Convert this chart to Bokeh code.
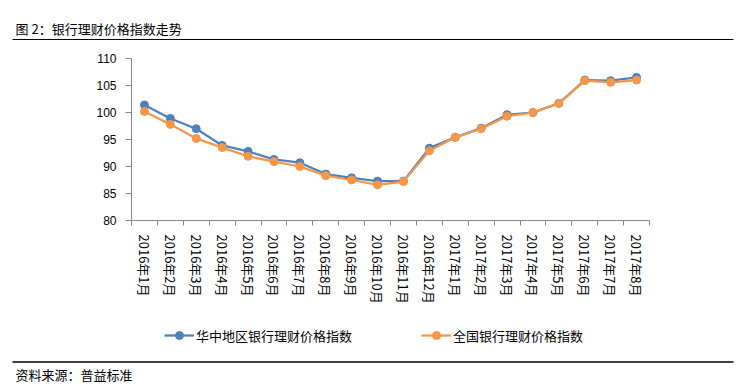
from bokeh.plotting import figure
from bokeh.models import Range1d, FixedTicker, Legend, LegendItem
from bokeh.layouts import column, row
from bokeh.embed import file_html
from bokeh.resources import INLINE
from bokeh.core.properties import value

months = ["2016年1月", "2016年2月", "2016年3月", "2016年4月", "2016年5月", "2016年6月",
          "2016年7月", "2016年8月", "2016年9月", "2016年10月", "2016年11月", "2016年12月",
          "2017年1月", "2017年2月", "2017年3月", "2017年4月", "2017年5月", "2017年6月",
          "2017年7月", "2017年8月"]
central = [101.4, 98.9, 97.0, 93.9, 92.8, 91.3, 90.7, 88.6, 87.9, 87.3, 87.3, 93.4,
           95.4, 97.1, 99.6, 100.0, 101.7, 106.0, 105.9, 106.5]
national = [100.2, 97.8, 95.2, 93.5, 91.9, 90.9, 90.0, 88.3, 87.5, 86.6, 87.2, 92.9,
            95.4, 97.0, 99.3, 100.0, 101.7, 105.9, 105.6, 106.0]
y_ticks = [80, 85, 90, 95, 100, 105, 110]
series_names = ["华中地区银行理财价格指数", "全国银行理财价格指数"]
title_text = "图 2：银行理财价格指数走势"
source_text = "资料来源：普益标准"

CJK = "Noto Sans CJK SC"
BLUE = "#4F81BD"
ORANGE = "#F79646"
AXIS = "#868686"
W = 741


def strip(height, y_top, y_bottom):
    f = figure(width=W, height=height, x_range=Range1d(0, W), y_range=Range1d(y_bottom, y_top),
               x_axis_type=None, y_axis_type=None, output_backend="svg",
               toolbar_location=None, min_border=0)
    f.grid.visible = False
    f.outline_line_color = None
    return f


# ---- top strip (title + rule), page y 0..40 ----
top = strip(40, 0, 40)
top.text(x=[15], y=[28], text=[title_text], text_font=value(CJK), text_font_size="13px",
         text_baseline="middle", text_align="left", text_color="#000000")
top.segment(x0=[12], y0=[39.3], x1=[733], y1=[39.3], line_color="#000000", line_width=1.5)

# ---- main chart, page y 40..318 ----
xs = list(range(1, len(months) + 1))
p = figure(width=W, height=278, x_range=Range1d(0.5, len(months) + 0.5),
           y_range=Range1d(80, 110), output_backend="svg", toolbar_location=None,
           min_border_left=131, min_border_right=92, min_border_top=18, min_border_bottom=98)
p.grid.visible = False
p.outline_line_color = None

xa = p.xaxis[0]
xa.ticker = FixedTicker(ticks=xs, minor_ticks=[i + 0.5 for i in range(0, len(months) + 1)])
xa.major_label_overrides = {i: m for i, m in zip(xs, months)}
xa.major_label_orientation = "vertical"
xa.major_tick_out = 0
xa.major_tick_in = 0
xa.minor_tick_out = 5
xa.minor_tick_in = 0
xa.axis_line_color = AXIS
xa.minor_tick_line_color = AXIS
xa.major_label_text_font = CJK
xa.major_label_text_font_size = "13px"
xa.major_label_text_color = "#000000"
xa.major_label_standoff = 9

ya = p.yaxis[0]
ya.ticker = FixedTicker(ticks=y_ticks, minor_ticks=[])
ya.major_tick_out = 6
ya.major_tick_in = 0
ya.axis_line_color = AXIS
ya.major_tick_line_color = AXIS
ya.major_label_text_font = "Liberation Sans"
ya.major_label_text_font_size = "12px"
ya.major_label_text_color = "#000000"
ya.major_label_standoff = 9

p.line(xs, central, line_color=BLUE, line_width=2.25)
p.scatter(xs, central, size=8, fill_color=BLUE, line_color=BLUE)
p.line(xs, national, line_color=ORANGE, line_width=2.25)
p.scatter(xs, national, size=8, fill_color=ORANGE, line_color=ORANGE)

# ---- bottom strip (legend + rule + source), page y 318..388 ----
# legend proxies: same series data, which falls outside this strip's range (not visible)
bot = strip(70, 318, 388)
lb1 = bot.line(xs, central, line_color=BLUE, line_width=2.25)
sb1 = bot.scatter(xs, central, size=8, fill_color=BLUE, line_color=BLUE)
lb2 = bot.line(xs, national, line_color=ORANGE, line_width=2.25)
sb2 = bot.scatter(xs, national, size=8, fill_color=ORANGE, line_color=ORANGE)
legend = Legend(items=[LegendItem(label=series_names[0], renderers=[lb1, sb1]),
                       LegendItem(label=series_names[1], renderers=[lb2, sb2])],
                location=(164, 43), orientation="horizontal", padding=0, spacing=69,
                glyph_width=30, glyph_height=20, label_height=20, label_standoff=2,
                border_line_color=None, background_fill_alpha=0, margin=0,
                label_text_font=CJK, label_text_font_size="13px", label_text_color="#000000")
bot.add_layout(legend)
bot.segment(x0=[12], y0=[361.5], x1=[733], y1=[361.5], line_color="#000000", line_width=1.5)
bot.text(x=[15], y=[374], text=[source_text], text_font=value(CJK), text_font_size="13px",
         text_baseline="middle", text_align="left", text_color="#000000")

layout = column(top, row(p), bot, spacing=0)
open("out.html", "w").write(file_html(layout, INLINE))
